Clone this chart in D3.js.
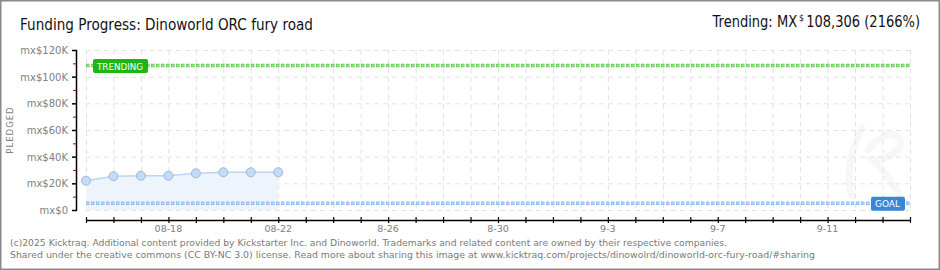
<!DOCTYPE html>
<html>
<head>
<meta charset="utf-8">
<script src="https://cdnjs.cloudflare.com/ajax/libs/d3/7.8.5/d3.min.js"></script>
<style>
  html, body { margin: 0; padding: 0; background: #fff; }
  svg { display: block; }
</style>
</head>
<body>
<div id="chart"></div>
<script>
// Kicktraq-style funding progress chart
const dates = ['2025-08-15', '2025-08-16', '2025-08-17', '2025-08-18', '2025-08-19', '2025-08-20', '2025-08-21', '2025-08-22'];
const pledged = [22000, 25300, 25700, 25700, 27500, 28300, 28300, 28300];
const goal = 5000;
const trending = 108306;
const yTicks = [0, 20000, 40000, 60000, 80000, 100000, 120000];
const yMinorTicks = [10000, 30000, 50000, 70000, 90000, 110000];
const xLabelDates = ['2025-08-18', '2025-08-22', '2025-08-26', '2025-08-30', '2025-09-03', '2025-09-07', '2025-09-11'];
const xLabels = ['08-18', '08-22', '8-26', '8-30', '9-3', '9-7', '9-11'];

const W = 940, H = 270;
const parse = d3.utcParse('%Y-%m-%d');

const svg = d3.select('#chart').append('svg')
  .attr('width', W).attr('height', H);

const x = d3.scaleUtc()
  .domain([parse('2025-08-15'), parse('2025-09-14')])
  .range([86, 910]);
const y = d3.scaleLinear().domain([0, 120000]).range([210, 50]);

// frame
svg.append('rect')
  .attr('x', 0.75).attr('y', 0.75).attr('width', W - 1.5).attr('height', H - 1.5)
  .attr('fill', '#fff').attr('stroke', '#8a8a8a').attr('stroke-width', 1.5);

// faint logo watermark (drawn as strokes, not text)
svg.append('path')
  .attr('d', 'M862,128 C850,150 846,175 852,196 M868,150 C880,136 892,128 900,140 C904,152 884,160 872,160 C884,170 892,182 900,196')
  .attr('fill', 'none').attr('stroke', '#f7f7f7').attr('stroke-width', 7)
  .attr('stroke-linecap', 'round');

// grid
const days = d3.utcDay.range(x.domain()[0], d3.utcDay.offset(x.domain()[1], 1));
svg.append('g').selectAll('line')
  .data(days).join('line')
  .attr('x1', d => x(d) + 0.5).attr('x2', d => x(d) + 0.5)
  .attr('y1', y(120000)).attr('y2', y(0))
  .attr('stroke', '#e3e3e3').attr('stroke-dasharray', '5,4');
svg.append('g').selectAll('line')
  .data(yTicks).join('line')
  .attr('x1', x.range()[0]).attr('x2', x.range()[1])
  .attr('y1', d => y(d) + 0.5).attr('y2', d => y(d) + 0.5)
  .attr('stroke', '#e3e3e3').attr('stroke-dasharray', '5,4');

// area + line
const pts = dates.map((d, i) => ({ date: parse(d), value: pledged[i] }));
svg.append('path')
  .datum(pts)
  .attr('d', d3.area().x(d => x(d.date)).y0(y(0)).y1(d => y(d.value)))
  .attr('fill', '#edf4fc');
svg.append('path')
  .datum(pts)
  .attr('d', d3.line().x(d => x(d.date)).y(d => y(d.value)))
  .attr('fill', 'none').attr('stroke', '#b9d5f3').attr('stroke-width', 1.5);

// dotted reference lines
function dottedLine(val, dark, light) {
  const g = svg.append('g');
  g.append('line')
    .attr('x1', x.range()[0]).attr('x2', x.range()[1])
    .attr('y1', y(val)).attr('y2', y(val))
    .attr('stroke', dark).attr('stroke-width', 3.5).attr('stroke-dasharray', '3.5,1.5');
  g.append('line')
    .attr('x1', x.range()[0] + 0.75).attr('x2', x.range()[1])
    .attr('y1', y(val)).attr('y2', y(val))
    .attr('stroke', light).attr('stroke-width', 1.5).attr('stroke-dasharray', '2,3');
}
dottedLine(goal, '#8fb9ea', '#c7dcf5');
dottedLine(trending, '#5fcf4f', '#a8eb9c');

// points
svg.append('g').selectAll('circle')
  .data(pts).join('circle')
  .attr('cx', d => x(d.date)).attr('cy', d => y(d.value))
  .attr('r', 4.5)
  .attr('fill', '#c4dbf6').attr('stroke', '#9bb9de').attr('stroke-width', 1);

// labels on lines
function tag(label, xLeft, w, val, fill) {
  svg.append('rect')
    .attr('x', xLeft).attr('y', y(val) - 6.5)
    .attr('width', w).attr('height', 14).attr('rx', 2)
    .attr('fill', fill);
  svg.append('text')
    .attr('x', xLeft + 4).attr('y', y(val) + 4)
    .attr('font-family', 'DejaVu Sans').attr('font-size', 9.5)
    .attr('fill', '#fff')
    .attr('textLength', w - 9).attr('lengthAdjust', 'spacingAndGlyphs')
    .text(label);
}
tag('TRENDING', 93, 55, trending, '#1fb512');
tag('GOAL', 871, 34, goal, '#3a87d8');

// y axis
svg.append('line')
  .attr('x1', 76.5).attr('x2', 76.5).attr('y1', 50).attr('y2', 210.5)
  .attr('stroke', '#000').attr('stroke-width', 1.5);
svg.append('g').selectAll('line')
  .data(yTicks).join('line')
  .attr('x1', 72).attr('x2', 77).attr('y1', d => y(d) + 0.5).attr('y2', d => y(d) + 0.5)
  .attr('stroke', '#000').attr('stroke-width', 1.5);
svg.append('g').selectAll('line')
  .data(yMinorTicks).join('line')
  .attr('x1', 73).attr('x2', 76).attr('y1', d => y(d) + 0.5).attr('y2', d => y(d) + 0.5)
  .attr('stroke', '#e01010').attr('stroke-width', 1.2);
svg.append('g').selectAll('text')
  .data(yTicks).join('text')
  .attr('x', 68).attr('y', d => y(d) + 4)
  .attr('text-anchor', 'end')
  .attr('font-family', 'DejaVu Sans').attr('font-size', 10).attr('fill', '#808080')
  .text(d => 'mx$' + (d === 0 ? '0' : (d / 1000) + 'K'));

svg.append('text')
  .attr('transform', 'translate(13,130) rotate(-90)')
  .attr('text-anchor', 'middle')
  .attr('font-family', 'DejaVu Sans').attr('font-size', 8.5).attr('letter-spacing', 1)
  .attr('fill', '#808080')
  .text('PLEDGED');

// x axis
svg.append('line')
  .attr('x1', x.range()[0]).attr('x2', x.range()[1] + 0.5)
  .attr('y1', 220.5).attr('y2', 220.5)
  .attr('stroke', '#000').attr('stroke-width', 1.5);
svg.append('g').selectAll('line')
  .data(days).join('line')
  .attr('x1', d => x(d) + 0.5).attr('x2', d => x(d) + 0.5)
  .attr('y1', 217).attr('y2', 223)
  .attr('stroke', '#000').attr('stroke-width', 1.2);
svg.append('g').selectAll('text')
  .data(xLabelDates).join('text')
  .attr('x', d => x(parse(d)))
  .attr('y', 232)
  .attr('text-anchor', 'middle')
  .attr('font-family', 'DejaVu Sans').attr('font-size', 9.5).attr('fill', '#808080')
  .text((d, i) => xLabels[i]);

// title
svg.append('text')
  .attr('x', 20).attr('y', 30)
  .attr('font-family', 'DejaVu Sans').attr('font-size', 16).attr('fill', '#111')
  .attr('textLength', 293).attr('lengthAdjust', 'spacingAndGlyphs')
  .text('Funding Progress: Dinoworld ORC fury road');

// trending summary: three separate pieces laid out right to left,
// each squeezed horizontally with a transform
const trParts = [
  { t: 'Trending:  MX', size: 15, dy: 0 },
  { t: '$', size: 9, dy: -6 },
  { t: '108,306 (2166%)', size: 15, dy: 0 }
];
const squeeze = 0.87;
let right = 920;
trParts.slice().reverse().forEach(p => {
  const g = svg.append('g');
  const t = g.append('text')
    .attr('x', 0).attr('y', 0)
    .attr('text-anchor', 'end')
    .attr('font-family', 'DejaVu Sans').attr('font-size', p.size).attr('fill', '#111')
    .text(p.t);
  const w = t.node().getComputedTextLength() * squeeze;
  g.attr('transform', 'translate(' + right + ',' + (27 + p.dy) + ') scale(' + squeeze + ',1)');
  right -= w + 2;
});

// footer
const footer = [
  '(c)2025 Kicktraq. Additional content provided by Kickstarter Inc. and Dinoworld. Trademarks and related content are owned by their respective companies.',
  'Shared under the creative commons (CC BY-NC 3.0) license. Read more about sharing this image at www.kicktraq.com/projects/dinowolrd/dinoworld-orc-fury-road/#sharing'
];
const footerWidths = [717, 805];
svg.append('g').selectAll('text')
  .data(footer).join('text')
  .attr('x', 10).attr('y', (d, i) => 246 + i * 12)
  .attr('font-family', 'DejaVu Sans').attr('font-size', 9.5).attr('fill', '#7a7a7a')
  .attr('textLength', (d, i) => footerWidths[i]).attr('lengthAdjust', 'spacingAndGlyphs')
  .text(d => d);
</script>
</body>
</html>
